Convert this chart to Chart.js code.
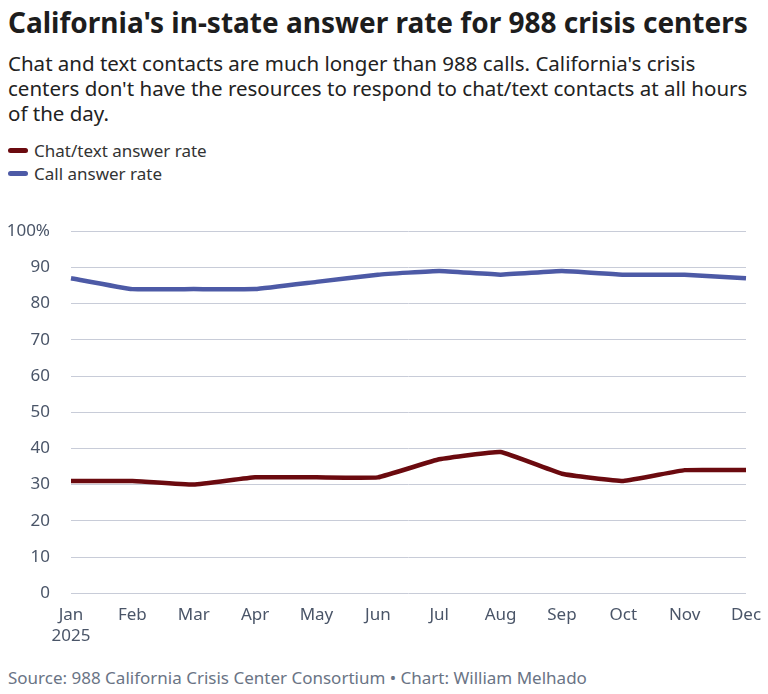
<!DOCTYPE html>
<html><head><meta charset="utf-8">
<script src="https://cdn.jsdelivr.net/npm/chart.js@4"></script>
<style>
body{margin:0;width:768px;height:694px;font-family:"Noto Sans",sans-serif;background:#fff;color:#1a1a1a;position:relative;overflow:hidden}
h1{position:absolute;left:8px;top:3px;margin:0;font-size:28px;font-weight:700;color:#1d1d1d;white-space:nowrap}
.sub{position:absolute;left:8px;top:51px;width:755px;font-size:20.5px;line-height:25px;color:#222}
.leg{position:absolute;left:8px;top:139px;font-size:17px;color:#333;line-height:23px}
.leg span{display:inline-block;width:20px;height:5px;border-radius:3px;vertical-align:middle;margin-right:6px;position:relative;top:-2px}
#wrap{position:absolute;left:0;top:200px;width:768px;height:450px}
.src{position:absolute;left:8px;top:666px;font-size:17px;color:#6a7485}
</style></head><body>
<h1>California's in-state answer rate for 988 crisis centers</h1>
<div class="sub">Chat and text contacts are much longer than 988 calls. California's crisis centers don't have the resources to respond to chat/text contacts at all hours of the day.</div>
<div class="leg"><div><span style="background:#6b0a0f"></span>Chat/text answer rate</div><div><span style="background:#4d5aa6"></span>Call answer rate</div></div>
<div id="wrap"><canvas id="c"></canvas></div>
<div class="src">Source: 988 California Crisis Center Consortium • Chart: William Melhado</div>
<script>
const months=[["Jan","2025"],"Feb","Mar","Apr","May","Jun","Jul","Aug","Sep","Oct","Nov","Dec"];
const chatRate=[31,31,30,32,32,32,37,39,33,31,34,34];
const callRate=[87,84,84,84,86,88,89,88,89,88,88,87];
const yTicks=[0,10,20,30,40,50,60,70,80,90,100];
new Chart(document.getElementById('c'),{type:'line',
data:{labels:months,datasets:[
{label:'Chat/text answer rate',data:chatRate,borderColor:'#6b0a0f',borderWidth:4.5,pointRadius:0,tension:0.1},
{label:'Call answer rate',data:callRate,borderColor:'#4d5aa6',borderWidth:4.5,pointRadius:0,tension:0.1}]},
options:{responsive:true,maintainAspectRatio:false,animation:false,
layout:{padding:{left:0,right:22,top:8,bottom:0}},
plugins:{legend:{display:false},tooltip:{enabled:false}},
scales:{
x:{offset:false,grid:{display:false},border:{display:false},
 ticks:{color:'#4a5568',font:{family:'Noto Sans',size:17},maxRotation:0,padding:4}},
y:{min:0,max:100,afterBuildTicks(s){s.ticks=yTicks.map(v=>({value:v}));},
 afterFit(s){s.width=71;},
 grid:{color:'#c8ccd8',drawTicks:false},border:{display:false},
 ticks:{color:'#4a5568',font:{family:'Noto Sans',size:17},padding:21,callback:v=>v===100?'100%':v}}}}
});
</script></body></html>
